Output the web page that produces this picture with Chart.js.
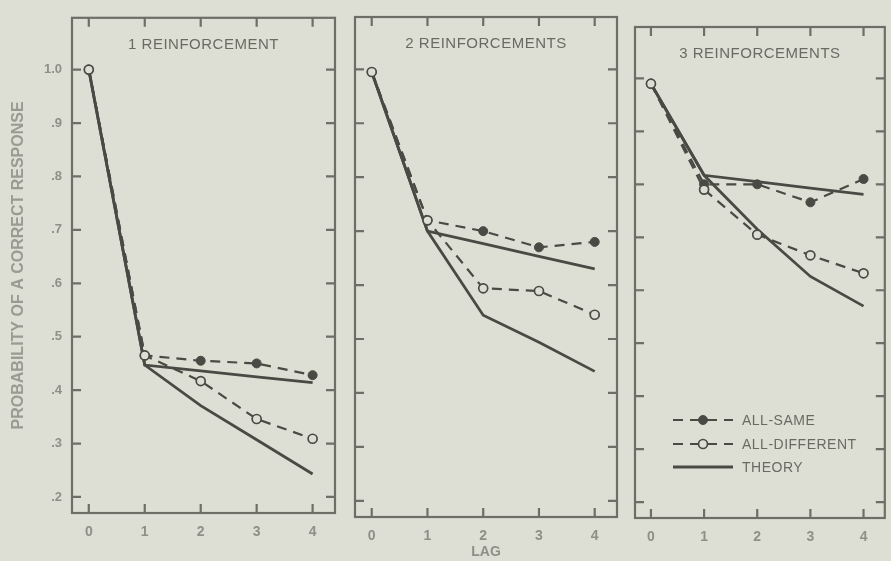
<!DOCTYPE html>
<html>
<head>
<meta charset="utf-8">
<title>Probability of a correct response by lag</title>
<script src="https://cdn.jsdelivr.net/npm/chart.js@4/dist/chart.umd.min.js"></script>
<style>
  body { margin: 0; background: #dddfd4; }
  #wrap { position: relative; width: 891px; height: 561px; }
  #wrap canvas { position: absolute; left: 0; top: 0; }
</style>
</head>
<body>
<div id="wrap">
  <canvas id="panel1" width="891" height="561"></canvas>
  <canvas id="panel2" width="891" height="561"></canvas>
  <canvas id="panel3" width="891" height="561"></canvas>
</div>
<script>
// ===============================
// DATA
// ===============================
const lags = [0, 1, 2, 3, 4];
const lagTicks = [0, 1, 2, 3, 4];
const lagTickLabels = ["0", "1", "2", "3", "4"];
const probTicks = [0.2, 0.3, 0.4, 0.5, 0.6, 0.7, 0.8, 0.9, 1.0];
const probTickLabels = [".2", ".3", ".4", ".5", ".6", ".7", ".8", ".9", "1.0"];

const panelTitles = ["1 REINFORCEMENT", "2 REINFORCEMENTS", "3 REINFORCEMENTS"];
const seriesNames = ["ALL-SAME", "ALL-DIFFERENT", "THEORY"];

// 1 reinforcement
const allSame1 = [1.0, 0.465, 0.455, 0.45, 0.428];
const allDiff1 = [1.0, 0.465, 0.417, 0.346, 0.309];
const theorySame1 = [1.0, 0.447, 0.436, 0.425, 0.414];
const theoryDiff1 = [1.0, 0.447, 0.371, 0.307, 0.243];

// 2 reinforcements
const allSame2 = [0.995, 0.72, 0.70, 0.67, 0.68];
const allDiff2 = [0.995, 0.72, 0.594, 0.589, 0.545];
const theorySame2 = [0.995, 0.70, 0.677, 0.653, 0.63];
const theoryDiff2 = [0.995, 0.70, 0.544, 0.494, 0.44];

// 3 reinforcements
const allSame3 = [0.99, 0.80, 0.80, 0.766, 0.81];
const allDiff3 = [0.99, 0.79, 0.705, 0.666, 0.632];
const theorySame3 = [0.99, 0.817, 0.805, 0.793, 0.781];
const theoryDiff3 = [0.99, 0.817, 0.715, 0.626, 0.57];

// ===============================
// STYLE
// ===============================
const bg = "#dddfd4";
const ink = "#4a4a45";
const frameInk = "#6e6e67";
const labelInk = "#8f8f88";
const titleInk = "#6a6a63";
const font = "'Liberation Sans', Arial, sans-serif";

// chart area of each panel on the page
const frames = [
  { l: 72, t: 10, r: 335, b: 513 },
  { l: 355, t: 17, r: 617, b: 517 },
  { l: 635, t: 27, r: 888, b: 518 },
];

const pts = arr => lags.map((x, i) => ({ x, y: arr[i] }));

function makeDatasets(same, diff, thSame, thDiff) {
  return [
    {
      label: seriesNames[1], data: pts(diff),
      borderColor: ink, borderWidth: 2.2, borderDash: [10, 7],
      pointRadius: 4.5, pointBackgroundColor: bg, pointBorderColor: ink, pointBorderWidth: 1.7,
    },
    {
      label: seriesNames[0], data: pts(same),
      borderColor: ink, borderWidth: 2.2, borderDash: [10, 7],
      pointRadius: 4.5, pointBackgroundColor: ink, pointBorderColor: ink, pointBorderWidth: 1,
    },
    {
      label: seriesNames[2], data: pts(thSame),
      borderColor: ink, borderWidth: 2.8, pointRadius: 0,
    },
    {
      label: seriesNames[2], data: pts(thDiff),
      borderColor: ink, borderWidth: 2.8, pointRadius: 0,
    },
  ];
}

// frame, inward ticks, panel title and legend
const framePlugin = {
  id: "frame",
  beforeDatasetsDraw(chart, args, opts) {
    const { ctx, chartArea: a, scales: { x, y } } = chart;
    ctx.save();
    ctx.strokeStyle = frameInk;
    ctx.lineWidth = 2.2;
    ctx.strokeRect(a.left, a.top, a.right - a.left, a.bottom - a.top);
    ctx.beginPath();
    lagTicks.forEach(v => {
      const px = x.getPixelForValue(v);
      ctx.moveTo(px, a.bottom); ctx.lineTo(px, a.bottom - 9);
      ctx.moveTo(px, a.top); ctx.lineTo(px, a.top + 9);
    });
    probTicks.forEach(v => {
      const py = y.getPixelForValue(v);
      ctx.moveTo(a.left, py); ctx.lineTo(a.left + 9, py);
      ctx.moveTo(a.right, py); ctx.lineTo(a.right - 9, py);
    });
    ctx.stroke();

    ctx.fillStyle = titleInk;
    ctx.font = "15px " + font;
    ctx.letterSpacing = "0.5px";
    ctx.textAlign = "center";
    ctx.textBaseline = "middle";
    ctx.fillText(opts.title, (a.left + a.right) / 2, a.top + 27);
    ctx.restore();
  },
  afterDatasetsDraw(chart, args, opts) {
    if (!opts.legend) return;
    const { ctx, chartArea: a } = chart;
    const ds = chart.data.datasets;
    const rows = [
      { set: ds[1], text: seriesNames[0], y: a.bottom - 98 },
      { set: ds[0], text: seriesNames[1], y: a.bottom - 74 },
      { set: ds[2], text: seriesNames[2], y: a.bottom - 51 },
    ];
    const x0 = a.left + 38, x1 = a.left + 98;
    ctx.save();
    rows.forEach(r => {
      ctx.strokeStyle = r.set.borderColor;
      ctx.lineWidth = r.set.borderWidth;
      ctx.setLineDash(r.set.borderDash || []);
      ctx.beginPath();
      ctx.moveTo(x0, r.y); ctx.lineTo(x1, r.y);
      ctx.stroke();
      ctx.setLineDash([]);
      if (r.set.pointRadius) {
        ctx.beginPath();
        ctx.arc((x0 + x1) / 2, r.y, r.set.pointRadius, 0, Math.PI * 2);
        ctx.fillStyle = r.set.pointBackgroundColor;
        ctx.fill();
        ctx.lineWidth = r.set.pointBorderWidth;
        ctx.strokeStyle = r.set.pointBorderColor;
        ctx.stroke();
      }
      ctx.fillStyle = titleInk;
      ctx.font = "14px " + font;
      ctx.letterSpacing = "0.5px";
      ctx.textAlign = "left";
      ctx.textBaseline = "middle";
      ctx.fillText(r.text, x1 + 9, r.y + 1);
    });
    ctx.restore();
  },
};

function makePanel(id, idx, datasets) {
  const f = frames[idx];
  const first = idx === 0;
  const yWidth = first ? f.l : 0;
  new Chart(document.getElementById(id), {
    type: "line",
    data: { datasets },
    options: {
      responsive: false,
      animation: false,
      events: [],
      layout: {
        padding: { left: f.l - yWidth, top: f.t, right: 891 - f.r, bottom: 0 },
      },
      scales: {
        x: {
          type: "linear",
          min: -0.3, max: 4.4,
          afterFit: s => { s.height = 561 - f.b; },
          afterBuildTicks: s => { s.ticks = lagTicks.map(v => ({ value: v })); },
          grid: { display: false, drawTicks: false },
          border: { display: false },
          ticks: {
            padding: 11,
            color: labelInk,
            font: { family: font, size: 14, weight: "bold" },
            callback: (v, i) => lagTickLabels[i],
          },
          title: {
            display: idx === 1,
            text: "LAG",
            color: labelInk,
            font: { family: font, size: 14, weight: "bold" },
            padding: { top: 0, bottom: 0 },
          },
        },
        y: {
          type: "linear",
          min: 0.17, max: 1.097,
          afterFit: s => { s.width = yWidth; },
          afterBuildTicks: s => { s.ticks = probTicks.map(v => ({ value: v })); },
          grid: { display: false, drawTicks: false },
          border: { display: false },
          ticks: {
            display: first,
            padding: 10,
            color: labelInk,
            font: { family: font, size: 13, weight: "bold" },
            callback: (v, i) => probTickLabels[i],
          },
          title: {
            display: first,
            text: "PROBABILITY OF A CORRECT RESPONSE",
            color: "#9a9a93",
            font: { family: font, size: 16, weight: "bold" },
            padding: { top: 9, bottom: 0 },
          },
        },
      },
      plugins: {
        legend: { display: false },
        tooltip: { enabled: false },
        frame: { title: panelTitles[idx], legend: idx === 2 },
      },
    },
    plugins: [framePlugin],
  });
}

makePanel("panel1", 0, makeDatasets(allSame1, allDiff1, theorySame1, theoryDiff1));
makePanel("panel2", 1, makeDatasets(allSame2, allDiff2, theorySame2, theoryDiff2));
makePanel("panel3", 2, makeDatasets(allSame3, allDiff3, theorySame3, theoryDiff3));
</script>
</body>
</html>
